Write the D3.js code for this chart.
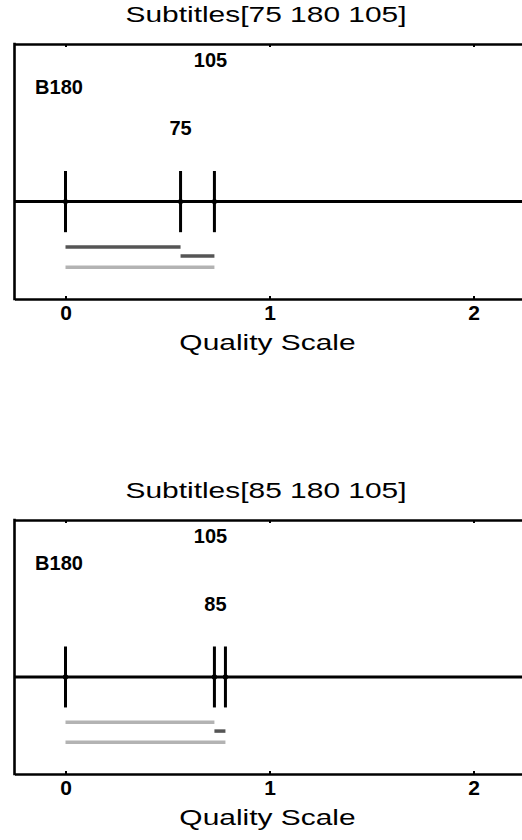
<!DOCTYPE html>
<html>
<head>
<meta charset="utf-8">
<style>
  body { margin: 0; background: #fff; }
  text { font-family: "Liberation Sans", Arial, sans-serif; }
</style>
</head>
<body>
<div id="chartId"></div>
<script src="https://cdn.jsdelivr.net/npm/d3@7/dist/d3.min.js"></script>
<script>

// Data
const panelTitles = ["Subtitles[75 180 105]", "Subtitles[85 180 105]"];
const conditions = [["B180", "75", "105"], ["B180", "85", "105"]];
const scores = [[0, 0.564, 0.730], [0, 0.730, 0.784]];
const labelPos = [[-0.032, 0.564, 0.711], [-0.032, 0.735, 0.711]];
const labelLevel = [0.831, 0.671, 0.937];
// pairs compared: [from, to, significant?]
const pairs = [
  [[0, 1, true], [1, 2, true], [0, 2, false]],
  [[0, 1, false], [1, 2, true], [0, 2, false]]
];
const pairLevel = [0.204, 0.169, 0.125];
const xTicks = [0, 1, 2];
const xLabel = "Quality Scale";

const W = 522, H = 840;
const panelTop = [44, 520];
const panelBottom = [299, 774];
const lineLevel = 0.382;
const stretch = 1.33; // the source figure's plain text is stretched sideways

const svg = d3.select("#chartId").append("svg")
  .attr("width", W).attr("height", H);

const x = d3.scaleLinear().domain([-0.25, 2.25]).range([14.5, 524.5]);

panelTitles.forEach((title, p) => {
  const y = d3.scaleLinear().domain([0, 1]).range([panelBottom[p], panelTop[p]]);
  const g = svg.append("g");

  // title
  g.append("text")
    .attr("transform", `translate(266,${panelTop[p] - 30}) scale(${stretch},1)`)
    .attr("text-anchor", "middle").attr("dominant-baseline", "central")
    .style("font-size", "22.5px")
    .text(title);

  // axes box (right side runs off the page)
  const bottomAxis = d3.axisBottom(x).tickValues(xTicks).tickSize(-3).tickSizeOuter(0)
    .tickPadding(6).tickFormat(d3.format("d"));
  const ga = g.append("g").attr("transform", `translate(0,${panelBottom[p]})`).call(bottomAxis)
    .attr("font-size", 21).attr("font-weight", "bold")
    .attr("font-family", "Liberation Sans, Arial, sans-serif");
  ga.select(".domain").attr("stroke-width", 2.6);
  ga.selectAll(".tick line").attr("stroke-width", 2);

  const topAxis = d3.axisTop(x).tickValues(xTicks).tickSize(-3).tickSizeOuter(0).tickFormat("");
  const gt = g.append("g").attr("transform", `translate(0,${panelTop[p]})`).call(topAxis);
  gt.select(".domain").attr("stroke-width", 2.6);
  gt.selectAll(".tick line").attr("stroke-width", 2);

  g.append("line")
    .attr("x1", x(-0.25)).attr("x2", x(-0.25))
    .attr("y1", panelTop[p] - 1.3).attr("y2", panelBottom[p] + 1.3)
    .attr("stroke", "#000").attr("stroke-width", 2.6);

  // x label
  g.append("text")
    .attr("transform", `translate(${x(1) - 2},${panelBottom[p] + 43}) scale(${stretch},1)`)
    .attr("text-anchor", "middle").attr("dominant-baseline", "central")
    .style("font-size", "22.5px")
    .text(xLabel);

  // quality line
  g.append("line")
    .attr("x1", x(-0.25)).attr("x2", x(2.25))
    .attr("y1", y(lineLevel)).attr("y2", y(lineLevel))
    .attr("stroke", "#000").attr("stroke-width", 3);

  // markers
  g.selectAll(".mark").data(scores[p]).enter().append("line")
    .attr("x1", d => x(d)).attr("x2", d => x(d))
    .attr("y1", y(lineLevel + 0.12)).attr("y2", y(lineLevel - 0.12))
    .attr("stroke", "#000").attr("stroke-width", 3);
  g.selectAll(".dot").data(scores[p]).enter().append("circle")
    .attr("cx", d => x(d)).attr("cy", y(lineLevel)).attr("r", 2.6)
    .attr("fill", "#000");

  // condition labels
  g.selectAll(".lab").data(conditions[p]).enter().append("text")
    .attr("x", (d, i) => x(labelPos[p][i]))
    .attr("y", (d, i) => y(labelLevel[i]))
    .attr("text-anchor", "middle").attr("dominant-baseline", "central")
    .style("font-size", "20px").style("font-weight", "bold")
    .text(d => d);

  // pair bars
  g.selectAll(".pair").data(pairs[p]).enter().append("line")
    .attr("x1", d => x(scores[p][d[0]])).attr("x2", d => x(scores[p][d[1]]))
    .attr("y1", (d, i) => y(pairLevel[i])).attr("y2", (d, i) => y(pairLevel[i]))
    .attr("stroke", d => d[2] ? "#555555" : "#b3b3b3")
    .attr("stroke-width", 3.5);
});

</script>
</body>
</html>
